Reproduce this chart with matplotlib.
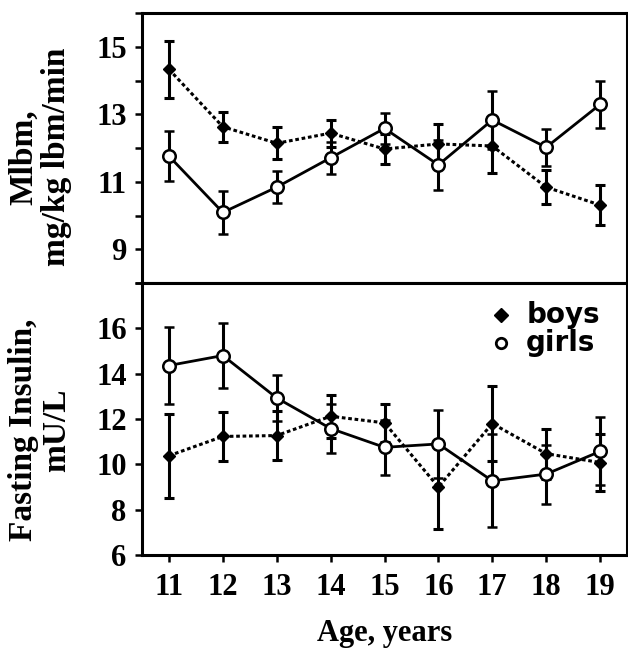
import matplotlib
matplotlib.use('Agg')
import matplotlib.pyplot as plt
import numpy as np

# ages on the x axis
ages = [11, 12, 13, 14, 15, 16, 17, 18, 19]

# top panel: Mlbm, mg/kg lbm/min
mlbm_boys = [14.33, 12.63, 12.14, 12.44, 11.97, 12.12, 12.06, 10.84, 10.31]
mlbm_boys_err = [0.85, 0.45, 0.48, 0.40, 0.45, 0.60, 0.80, 0.50, 0.58]
mlbm_girls = [11.76, 10.09, 10.84, 11.71, 12.58, 11.50, 12.83, 12.02, 13.29]
mlbm_girls_err = [0.75, 0.65, 0.48, 0.48, 0.45, 0.75, 0.85, 0.55, 0.69]

# bottom panel: fasting insulin, mU/L
ins_boys = [10.38, 11.23, 11.27, 12.12, 11.83, 9.00, 11.80, 10.47, 10.08]
ins_boys_err = [1.85, 1.10, 1.10, 0.95, 0.85, 1.85, 1.65, 1.10, 1.25]
ins_girls = [14.36, 14.80, 12.93, 11.58, 10.75, 10.90, 9.27, 9.57, 10.57]
ins_girls_err = [1.70, 1.45, 1.03, 1.10, 1.20, 1.50, 2.05, 1.30, 1.50]

top_yticks = [8, 9, 10, 11, 12, 13, 14, 15, 16]
top_ylabels = ['', '9', '', '11', '', '13', '', '15', '']
bot_yticks = [6, 8, 10, 12, 14, 16, 18]
bot_ylabels = ['6', '8', '10', '12', '14', '16', '']

W, H = 628, 648
fig = plt.figure(figsize=(W / 100, H / 100), dpi=100)
fig.patch.set_facecolor('white')

serif = {'family': 'Liberation Serif', 'weight': 'bold'}


def px_axes(x0, y0, x1, y1):
    return fig.add_axes([x0 / W, 1 - y1 / H, (x1 - x0) / W, (y1 - y0) / H])


ax1 = px_axes(142, 13, 627, 283)
ax2 = px_axes(142, 283, 627, 555)


def draw(ax, boys, boys_err, girls, girls_err):
    ax.errorbar(ages, boys, yerr=boys_err, color='black', lw=2.2,
                linestyle=(0, (1.2, 0.9)), marker='D', ms=6.5,
                mfc='black', mec='black', ecolor='black', elinewidth=2.2,
                capsize=3.5, capthick=2.2, zorder=3)
    ax.errorbar(ages, girls, yerr=girls_err, color='black', lw=2.0,
                linestyle='-', marker='o', ms=9, mfc='white', mec='black',
                mew=1.8, ecolor='black', elinewidth=2.2, capsize=3.5,
                capthick=2.2, zorder=4)
    ax.set_xlim(10.5, 19.5)
    for s in ax.spines.values():
        s.set_linewidth(2.2)
    ax.tick_params(axis='y', direction='out', length=5, width=1.8, pad=6)
    ax.tick_params(axis='x', direction='out', length=5, width=1.8, pad=8)


draw(ax1, mlbm_boys, mlbm_boys_err, mlbm_girls, mlbm_girls_err)
ax1.set_ylim(8, 16)
ax1.set_yticks(top_yticks)
ax1.set_yticklabels(top_ylabels, fontdict=serif, fontsize=22)
ax1.set_xticks([])

draw(ax2, ins_boys, ins_boys_err, ins_girls, ins_girls_err)
ax2.set_ylim(6, 18)
ax2.set_yticks(bot_yticks)
ax2.set_yticklabels(bot_ylabels, fontdict=serif, fontsize=22)
ax2.set_xticks(ages)
ax2.set_xticklabels([str(a) for a in ages], fontdict=serif, fontsize=22)

ax1.set_ylabel('Mlbm,\nmg/kg lbm/min', fontdict=serif, fontsize=24,
               linespacing=1.05)
ax2.set_ylabel('Fasting Insulin,\nmU/L', fontdict=serif, fontsize=24,
               linespacing=1.05)
ax2.set_xlabel('Age, years', fontdict=serif, fontsize=22, labelpad=12)
ax1.yaxis.set_label_coords(-0.145, 0.467)
ax2.yaxis.set_label_coords(-0.145, 0.46)

# legend drawn as markers + text
ax2.plot([19 - 1.83], [16.58], marker='D', ms=7, color='black',
         linestyle='none', clip_on=False)
ax2.plot([19 - 1.83], [15.35], marker='o', ms=7.5, mfc='white', mec='black',
         mew=2, linestyle='none', clip_on=False)
ax2.text(19 - 1.37, 16.58, 'boys', fontsize=20, fontweight='bold',
         family='DejaVu Sans', va='center', ha='left')
ax2.text(19 - 1.37, 15.35, 'girls', fontsize=20, fontweight='bold',
         family='DejaVu Sans', va='center', ha='left')

fig.savefig('out.png', dpi=100, facecolor='white')
